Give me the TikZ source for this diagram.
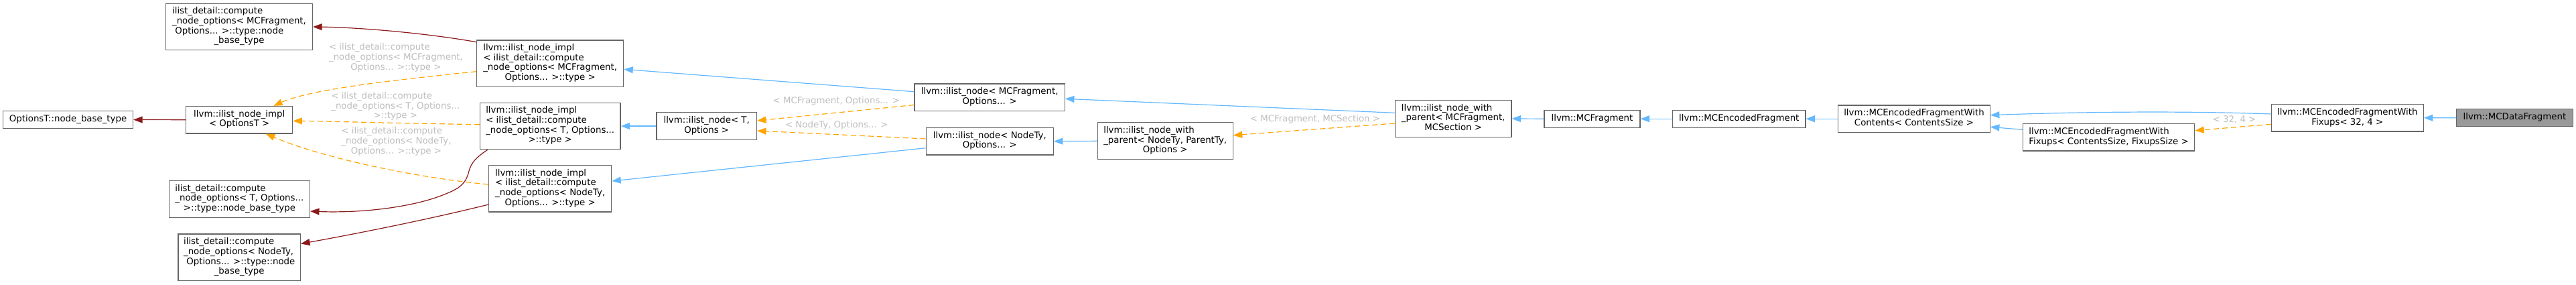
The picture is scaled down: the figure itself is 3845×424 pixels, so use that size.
\documentclass[tikz,border=0pt]{standalone}
\usepackage{fontspec}
\setmainfont{DejaVu Sans}
\usetikzlibrary{arrows.meta}
\definecolor{nodeborder}{HTML}{666666}
\definecolor{hlfill}{HTML}{999999}
\definecolor{inhblue}{HTML}{63B8FF}
\definecolor{usered}{HTML}{8B1A1A}
\definecolor{tmplorange}{HTML}{FFA500}
\definecolor{lblgray}{HTML}{BEBEBE}
\newcommand\lastc[1]{\multicolumn{1}{@{}c@{}}{#1}}
\newcommand\ml[1]{\begin{tabular}{@{}l@{}}#1\end{tabular}}
\begin{document}
\begin{tikzpicture}[x=1pt,y=-1pt,
  font=\fontsize{13.33pt}{14.67pt}\selectfont,
  cls/.style={draw=nodeborder, line width=1.2pt, fill=white, inner sep=0pt, rectangle},
  hl/.style={cls, fill=hlfill},
  lbl/.style={text=lblgray, inner sep=0pt},
  tip/.style={-{Triangle[length=13.5pt,width=10pt]}},
  inh/.style={draw=inhblue, line width=1.2pt, tip},
  usage/.style={draw=usered, line width=1.2pt, tip},
  tmpl/.style={draw=tmplorange, line width=1.2pt, dash pattern=on 8pt off 5pt, tip},
  h1/.style={minimum height=26pt},
  h2/.style={minimum height=40.5pt},
  h3/.style={minimum height=55pt},
  h4/.style={minimum height=69.5pt}
]
\useasboundingbox[fill=white] (0,0) rectangle (3845,424);

% nodes
\node[cls,h1,minimum width=194pt] (OTbase) at (101.6,178.5) {\ml{OptionsT::node\_base\_type}};
\node[cls,h2,minimum width=159pt] (implO) at (357.2,178.7) {\ml{llvm::ilist\_node\_impl\\\lastc{< OptionsT >}}};
\node[cls,h4,minimum width=219pt] (cMC) at (357,40) {\ml{ilist\_detail::compute\\\_node\_options< MCFragment,\\\ Options... >::type::node\\\lastc{\_base\_type}}};
\node[cls,h3,minimum width=210pt] (cT) at (357.4,297) {\ml{ilist\_detail::compute\\\_node\_options< T, Options...\\\lastc{>::type::node\_base\_type}}};
\node[cls,h4,minimum width=182.5pt] (cN) at (357.2,383.8) {\ml{ilist\_detail::compute\\\_node\_options< NodeTy,\\\ Options... >::type::node\\\lastc{\_base\_type}}};
\node[cls,h4,minimum width=219pt] (implMC) at (821.2,94.7) {\ml{llvm::ilist\_node\_impl\\< ilist\_detail::compute\\\_node\_options< MCFragment,\\\lastc{Options... >::type >}}};
\node[cls,h4,minimum width=209.7pt] (implT) at (821.2,188) {\ml{llvm::ilist\_node\_impl\\< ilist\_detail::compute\\\_node\_options< T, Options...\\\lastc{>::type >}}};
\node[cls,h4,minimum width=183pt] (implN) at (821.2,281.3) {\ml{llvm::ilist\_node\_impl\\< ilist\_detail::compute\\\_node\_options< NodeTy,\\\lastc{Options... >::type >}}};
\node[cls,h2,minimum width=149.3pt] (inT) at (1054.7,188) {\ml{llvm::ilist\_node< T,\\\lastc{Options >}}};
\node[cls,h2,minimum width=224.3pt] (inMC) at (1477.2,145.3) {\ml{llvm::ilist\_node< MCFragment,\\\lastc{Options... >}}};
\node[cls,h2,minimum width=190pt] (inN) at (1477.3,210.7) {\ml{llvm::ilist\_node< NodeTy,\\\lastc{Options... >}}};
\node[cls,h3,minimum width=202pt] (wpN) at (1739.2,210.3) {\ml{llvm::ilist\_node\_with\\\_parent< NodeTy, ParentTy,\\\lastc{Options >}}};
\node[cls,h3,minimum width=173.6pt] (wpMC) at (2169.2,177) {\ml{llvm::ilist\_node\_with\\\_parent< MCFragment,\\\lastc{MCSection >}}};
\node[cls,h1,minimum width=143pt] (MCF) at (2376.5,177.2) {\ml{llvm::MCFragment}};
\node[cls,h1,minimum width=198.2pt] (MCE) at (2595.8,177.2) {\ml{llvm::MCEncodedFragment}};
\node[cls,h2,minimum width=226.5pt] (WC) at (2857,177.2) {\ml{llvm::MCEncodedFragmentWith\\\lastc{Contents< ContentsSize >}}};
\node[cls,h2,minimum width=256.3pt] (WFCS) at (3147.5,204.8) {\ml{llvm::MCEncodedFragmentWith\\\lastc{Fixups< ContentsSize, FixupsSize >}}};
\node[cls,h2,minimum width=227pt] (WF32) at (3503.8,175.8) {\ml{llvm::MCEncodedFragmentWith\\\lastc{Fixups< 32, 4 >}}};
\node[hl,h1,minimum width=174pt] (MCD) at (3753.4,175.7) {\ml{llvm::MCDataFragment}};

% edge labels
\node[lbl] (l16) at (591,86.7) {\ml{< ilist\_detail::compute\\\_node\_options< MCFragment,\\\lastc{Options... >::type >}}};
\node[lbl] (l18) at (590.3,159.3) {\ml{< ilist\_detail::compute\\\_node\_options< T, Options...\\\lastc{>::type >}}};
\node[lbl] (l20) at (591.5,211.7) {\ml{< ilist\_detail::compute\\\_node\_options< NodeTy,\\\lastc{Options... >::type >}}};
\node[lbl] (l12) at (1248.3,151.7) {\ml{< MCFragment, Options... >}};
\node[lbl] (l13) at (1248.8,187.7) {\ml{< NodeTy, Options... >}};
\node[lbl] (l9) at (1963,178.3) {\ml{< MCFragment, MCSection >}};
\node[lbl] (l3) at (3335,180) {\ml{< 32, 4 >}};

% edges
\draw[inh] (MCD.west) -- (WF32.east);
\draw[inh] ([yshift=5.8pt]WF32.west) .. controls (3250,165) and (3100,167) .. ([yshift=5.5pt]WC.east);
\draw[tmpl] ([yshift=-9.5pt]WF32.west) -- ([yshift=10.1pt]WFCS.east);
\draw[inh] ([yshift=11.5pt]WFCS.west) -- ([yshift=-12.1pt]WC.east);
\draw[inh] (WC.west) -- (MCE.east);
\draw[inh] (MCE.west) -- (MCF.east);
\draw[inh] (MCF.west) -- (wpMC.east);
\draw[inh] ([yshift=8.7pt]wpMC.west) -- ([yshift=-2pt]inMC.east);
\draw[tmpl] ([yshift=-7pt]wpMC.west) -- ([yshift=8.6pt]wpN.east);
\draw[inh] (wpN.west) -- (inN.east);
\draw[inh] ([yshift=8.6pt]inMC.west) -- ([yshift=-8.6pt]implMC.east);
\draw[tmpl] ([yshift=-11.2pt]inMC.west) -- ([yshift=8pt]inT.east);
\draw[tmpl] ([yshift=3.7pt]inN.west) -- ([yshift=-7pt]inT.east);
\draw[inh] ([yshift=-10pt]inN.west) -- ([yshift=11.3pt]implN.east);
\draw[inh] (inT.west) -- (implT.east);
\draw[tmpl] ([yshift=-12pt]implMC.west) .. controls (560,122) and (460,135) .. ([xshift=51pt]implO.north);
\draw[usage] ([yshift=32pt]implMC.west) .. controls (640,50) and (540,41) .. (cMC.east);
\draw[tmpl] ([yshift=2.3pt]implT.west) .. controls (600,184) and (500,181) .. ([yshift=-1.6pt]implO.east);
\draw[usage] ([xshift=-93.5pt]implT.south) .. controls (712,234) and (704,241) .. (700,255) .. controls (696,271) and (690,279) .. (668,288) .. controls (620,309) and (540,318) .. ([yshift=-18pt]cT.east);
\draw[tmpl] ([yshift=6.3pt]implN.west) .. controls (620,265) and (480,235) .. ([xshift=39.5pt]implO.south);
\draw[usage] ([yshift=-23.7pt]implN.west) .. controls (640,327) and (540,347) .. ([yshift=20.3pt]cN.east);
\draw[usage] (implO.west) -- (OTbase.east);
\end{tikzpicture}
\end{document}
